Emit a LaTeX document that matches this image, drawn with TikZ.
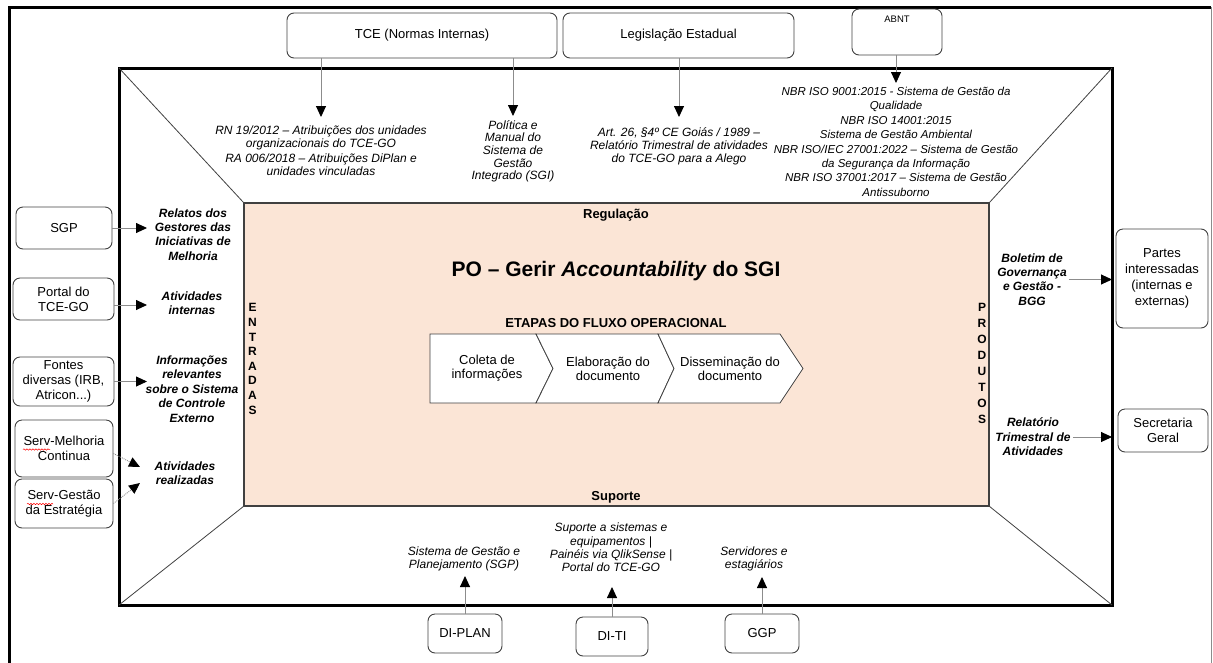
\documentclass[tikz,border=0pt]{standalone}
\usepackage{fontspec}
\setmainfont{Liberation Sans}
\usetikzlibrary{arrows.meta,decorations.pathmorphing}
\definecolor{peach}{HTML}{FBE5D6}
\definecolor{boxline}{HTML}{404040}
\definecolor{arrline}{HTML}{8C8C8C}

\begin{document}
\begin{tikzpicture}[x=1pt,y=-1pt]
    \tikzset{
        src/.style={draw=boxline, line width=0.9pt, rounded corners=7pt, align=center, inner sep=1pt,
            font=\fontsize{13}{15}\selectfont},
        note/.style={align=center, inner sep=2pt, font=\fontsize{12}{13}\selectfont\itshape},
        fact/.style={align=center, inner sep=2pt, font=\fontsize{12}{14.4}\selectfont\bfseries\itshape},
        head/.style={inner sep=1pt, align=center, font=\fontsize{13}{15}\selectfont\bfseries},
        feed/.style={draw=arrline, line width=0.9pt, -{Triangle[length=11pt, width=10pt, color=black]}},
        hint/.style={feed, densely dotted},
        stage/.style={draw=boxline, line width=0.8pt, fill=white},
        diag/.style={draw=boxline, line width=0.8pt},
    }
    \useasboundingbox (0,0) rectangle (1213,662);
    \clip (0,0) rectangle (1213,662);

    % outer frame, open at the bottom
    \draw[line width=3pt] (9,670) -- (9,7) -- (1211,7);
    \draw[arrline, line width=0.8pt] (1211,7) -- (1211,670);

    % inner frame, core and corner lines
    \node[draw, line width=3pt, inner sep=0pt, outer sep=0pt, minimum width=993pt, minimum height=537pt] (frame) at (615.5,336.5) {};
    \node[draw=boxline, fill=peach, line width=1.5pt, inner sep=0pt, outer sep=0pt, minimum width=745pt, minimum height=303pt] (core) at (616.5,354.5) {};
    \foreach \c in {north west, north east, south west, south east}
        \draw[diag] (frame.\c) -- (core.\c);

    % regulation
    \node[src, minimum width=270pt, minimum height=45pt] (tce) at (422,35.5) {TCE (Normas Internas)};
    \node[src, minimum width=231pt, minimum height=45pt] (legis) at (678.5,35.5) {Legislação Estadual};
    \node[src, minimum width=90pt, inner sep=0pt, text height=13pt, text depth=33pt, font=\fontsize{9.5}{11}\selectfont] (abnt) at (897,32) {ABNT};

    \node[note, anchor=north, inner ysep=9pt, font=\fontsize{12}{12.7}\selectfont\itshape] (rn) at (321,117) {RN 19/2012 – Atribuições dos unidades\\organizacionais do TCE-GO\\[2pt]RA 006/2018 – Atribuições DiPlan e\\unidades vinculadas};
    \node[note, anchor=north, inner ysep=4pt, font=\fontsize{12}{12.7}\selectfont\itshape] (sgi) at (513,116) {Política e\\Manual do\\Sistema de\\Gestão\\Integrado (SGI)};
    \node[note, anchor=north, inner ysep=10pt] (art) at (679,117) {Art. 26, §4º CE Goiás / 1989 –\\Relatório Trimestral de atividades\\do TCE-GO para a Alego};
    \node[note, anchor=north, inner ysep=4pt, font=\fontsize{11.5}{14.4}\selectfont\itshape] (iso) at (896,83) {NBR ISO 9001:2015 - Sistema de Gestão da\\Qualidade\\NBR ISO 14001:2015\\Sistema de Gestão Ambiental\\NBR ISO/IEC 27001:2022 – Sistema de Gestão\\da Segurança da Informação\\NBR ISO 37001:2017 – Sistema de Gestão\\Antissuborno};

    \draw[feed] (tce.south -| rn.north) -- (rn.north);
    \draw[feed] (tce.south -| sgi.north) -- (sgi.north);
    \draw[feed] (legis.south -| art.north) -- (art.north);
    \draw[feed] (abnt.south -| iso.north) -- (iso.north);

    % inputs
    \node[src, minimum width=96pt, minimum height=42pt] (sgp) at (64,228) {SGP};
    \node[src, minimum width=101pt, minimum height=42pt] (portal) at (63.5,299) {Portal do\\TCE-GO};
    \node[src, minimum width=101pt, minimum height=49pt] (fontes) at (63.5,381.5) {Fontes\\diversas (IRB,\\Atricon...)};
    \node[src, minimum width=98pt, minimum height=57pt] (melhoria) at (64,448.5) {Serv-Melhoria\\Continua};
    \node[src, minimum width=98pt, minimum height=49pt] (estrategia) at (64,503.5) {Serv-Gestão\\da Estratégia};
    \foreach \a/\b/\yy in {23/50/449.5, 27/53/504}
        \draw[red, line width=0.5pt, decorate, decoration={snake, amplitude=0.7pt, segment length=3pt}] (\a,\yy) -- (\b,\yy);

    \node[fact] (relatos) at (193,234.5) {Relatos dos\\Gestores das\\Iniciativas de\\Melhoria};
    \node[fact] (internas) at (192,303) {Atividades\\internas};
    \node[fact] (infos) at (192,389) {Informações\\relevantes\\sobre o Sistema\\de Controle\\Externo};
    \node[fact] (realizadas) at (185,473.5) {Atividades\\realizadas};

    \coordinate (intip) at (147,0);
    \coordinate (mtip) at (140,467);
    \coordinate (gtip) at (140,483);
    \draw[feed] (sgp.east) -- (sgp.east -| intip);
    \draw[feed] ([yshift=-6pt]portal.east) -- ([yshift=-6pt]portal.east -| intip);
    \draw[feed] (fontes.east) -- (fontes.east -| intip);
    \draw[hint] ([yshift=-5pt]melhoria.east) -- (mtip);
    \draw[hint] (estrategia.east) -- (gtip);

    % core
    \node[head, font=\fontsize{12}{14.6}\selectfont\bfseries] (entradas) at (252.5,359) {E\\N\\T\\R\\A\\D\\A\\S};
    \node[head, font=\fontsize{12}{16}\selectfont\bfseries] (produtos) at (982,363) {P\\R\\O\\D\\U\\T\\O\\S};
    \node[head] (regul) at (616,215) {Regulação};
    \node[font=\fontsize{21}{24}\selectfont\bfseries] (title) at (616,271) {PO – Gerir \textit{Accountability} do SGI};
    \node[head] (etapas) at (616,323) {ETAPAS DO FLUXO OPERACIONAL};
    \node[head] (suporte) at (616,497) {Suporte};

    \foreach \a/\b/\c/\d in {430/430/536/553, 536/553/658/674, 658/674/780/803}
        \draw[stage] (\a,334) -- (\c,334) -- (\d,368.5) -- (\c,403) -- (\a,403) -- (\b,368.5) -- cycle;
    \node[align=center, font=\fontsize{13}{14}\selectfont] (coleta) at (487,368.5) {Coleta de\\informações};
    \node[align=center, font=\fontsize{13}{14}\selectfont] (elab) at (608,368.5) {Elaboração do\\documento};
    \node[align=center, font=\fontsize{13}{14}\selectfont] (dissem) at (730,368.5) {Disseminação do\\documento};

    % outputs
    \node[fact] (bgg) at (1032,279.5) {Boletim de\\Governança\\e Gestão -\\BGG};
    \node[fact] (rta) at (1033,437) {Relatório\\Trimestral de\\Atividades};
    \node[src, minimum width=92pt, minimum height=99pt, font=\fontsize{13}{16}\selectfont] (partes) at (1162,278.5) {Partes\\interessadas\\(internas e\\externas)};
    \node[src, minimum width=90pt, minimum height=43pt] (secgeral) at (1163,430.5) {Secretaria\\Geral};
    \draw[feed] (bgg.east) -- (bgg.east -| frame.east);
    \draw[feed] (rta.east) -- (rta.east -| frame.east);

    % support
    \node[src, minimum width=74pt, minimum height=39pt] (diplan) at (465,633.5) {DI-PLAN};
    \node[src, minimum width=72pt, minimum height=39pt] (diti) at (612,636.5) {DI-TI};
    \node[src, minimum width=74pt, minimum height=39pt] (ggp) at (762,633.5) {GGP};
    \node[note, anchor=south, inner ysep=5pt, font=\fontsize{12}{13.3}\selectfont\itshape] (sgpsys) at (464,576) {Sistema de Gestão e\\Planejamento (SGP)};
    \node[note, anchor=south, inner ysep=15pt, font=\fontsize{12}{13.3}\selectfont\itshape] (tisup) at (611,587) {Suporte a sistemas e\\equipamentos |\\Painéis via QlikSense |\\Portal do TCE-GO};
    \node[note, anchor=south, inner ysep=5.5pt, font=\fontsize{12}{13.3}\selectfont\itshape] (staff) at (754,577) {Servidores e\\estagiários};
    \draw[feed] (diplan.north) -- (diplan.north |- sgpsys.south);
    \draw[feed] (diti.north) -- (diti.north |- tisup.south);
    \draw[feed] (ggp.north) -- (ggp.north |- staff.south);
\end{tikzpicture}
\end{document}
